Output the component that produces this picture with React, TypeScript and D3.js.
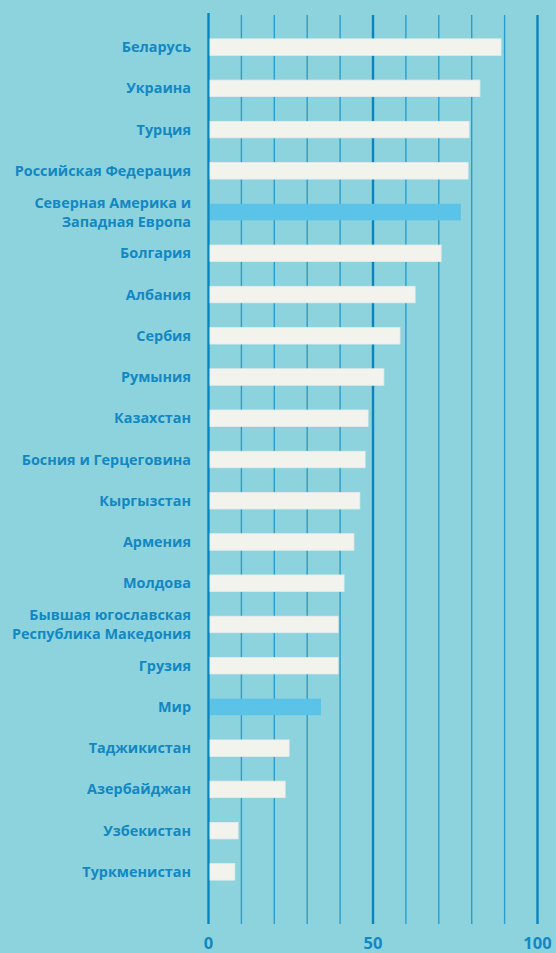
import React, { useEffect, useRef } from "react";
import * as d3 from "d3";

// categories top to bottom, label lines split with "\n"
const countries = [
  "Беларусь",
  "Украина",
  "Турция",
  "Российская Федерация",
  "Северная Америка и\nЗападная Европа",
  "Болгария",
  "Албания",
  "Сербия",
  "Румыния",
  "Казахстан",
  "Босния и Герцеговина",
  "Кыргызстан",
  "Армения",
  "Молдова",
  "Бывшая югославская\nРеспублика Македония",
  "Грузия",
  "Мир",
  "Таджикистан",
  "Азербайджан",
  "Узбекистан",
  "Туркменистан",
];

const values = [
  88.9, 82.5, 79.2, 78.9, 76.7, 70.7, 62.8, 58.2, 53.3, 48.5, 47.6, 46.0,
  44.2, 41.2, 39.4, 39.4, 34.2, 24.5, 23.3, 9.0, 8.0,
];

// rows drawn in the lighter blue
const highlighted = ["Северная Америка и\nЗападная Европа", "Мир"];

const tickLabels = [0, 50, 100];

const App = () => {
  const svgRef = useRef(null);

  useEffect(() => {
    const width = 556;
    const height = 953;
    const bg = "#8dd3de";
    const textColor = "#1287c2";

    const x = d3.scaleLinear().domain([0, 100]).range([208.5, 537.5]);
    const y = d3
      .scaleBand()
      .domain(countries)
      .range([26.5, 892.5])
      .paddingInner(0.6)
      .paddingOuter(0.3);

    const svg = d3.select(svgRef.current);
    svg.selectAll("*").remove();
    svg
      .attr("width", width)
      .attr("height", height)
      .attr("viewBox", [0, 0, width, height])
      .style("position", "absolute")
      .style("left", "0px")
      .style("top", "0px")
      .style("background", bg)
      .style("font-family", "'Open Sans', 'Noto Sans', sans-serif");

    // vertical grid lines every 10, heavier at 0 / 50 / 100
    const grid = d3.range(0, 101, 10);
    svg
      .append("g")
      .selectAll("line")
      .data(grid)
      .join("line")
      .attr("x1", (d) => x(d))
      .attr("x2", (d) => x(d))
      .attr("y1", (d) => (d === 0 ? 13 : 15))
      .attr("y2", 924)
      .attr("stroke", (d) => (d % 50 === 0 ? "#0a84bf" : "#2a9ecb"))
      .attr("stroke-width", (d) => (d % 50 === 0 ? 2.4 : 1.4));

    // bars
    svg
      .append("g")
      .selectAll("rect")
      .data(countries)
      .join("rect")
      .attr("x", x(0) + 1.5)
      .attr("y", (d) => y(d))
      .attr("width", (d, i) => x(values[i]) - x(0) - 1.5)
      .attr("height", y.bandwidth())
      .attr("fill", (d) => (highlighted.includes(d) ? "#5bc2e8" : "#f3f3ee"))
      .attr("stroke", (d) => (highlighted.includes(d) ? "none" : "#e4ecea"))
      .attr("stroke-width", 0.8);

    // category labels, right aligned
    const labels = svg
      .append("g")
      .selectAll("text")
      .data(countries)
      .join("text")
      .attr("x", 191)
      .attr("text-anchor", "end")
      .attr("fill", textColor)
      .style("font-size", "14.4px")
      .style("font-weight", 700);

    labels.each(function (d) {
      const lines = d.split("\n");
      const cy = y(d) + y.bandwidth() / 2;
      const lh = 19;
      const t = d3.select(this);
      lines.forEach((line, k) => {
        t.append("tspan")
          .attr("x", 191)
          .attr("y", cy + (k - (lines.length - 1) / 2) * lh + 5)
          .text(line);
      });
    });

    // axis tick labels
    svg
      .append("g")
      .selectAll("text")
      .data(tickLabels)
      .join("text")
      .attr("x", (d) => x(d))
      .attr("y", 949)
      .attr("text-anchor", "middle")
      .attr("fill", textColor)
      .style("font-size", "16.5px")
      .style("font-weight", 700)
      .text((d) => d);
  }, []);

  return <svg ref={svgRef} />;
};

export default App;
